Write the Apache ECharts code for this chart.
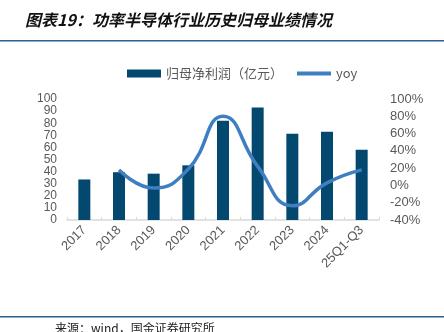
<!DOCTYPE html>
<html><head><meta charset="utf-8">
<script src="https://cdn.jsdelivr.net/npm/echarts@6/dist/echarts.min.js"></script>
<style>html,body{margin:0;padding:0;background:#fff}#c{width:444px;height:332px}</style>
</head><body><div id="c"></div>
<script>
const categories = ['2017','2018','2019','2020','2021','2022','2023','2024','25Q1-Q3'];
const profit = [33.5, 39.5, 38.3, 45.2, 82, 93, 71.3, 73, 58];
const yoy = [null, 18, -3, 19, 80, 22, -23.5, 3, 18];
const leftTicks = [0, 100, 10];
const rightTicks = [-40, 100, 20];

const chart = echarts.init(document.getElementById('c'), null, {renderer:'canvas'});
const gray = '#595959';
const font = 'Liberation Sans, Arial, sans-serif';
chart.setOption({
  animation: false,
  textStyle: {fontFamily: font},
  title: {
    text: '图表19：功率半导体行业历史归母业绩情况',
    left: 20, top: 7,
    textStyle: {fontFamily: 'Noto Sans CJK SC', fontSize: 16, fontStyle: 'italic', fontWeight: 'bold', color: '#111'}
  },
  graphic: [
    {type:'rect', shape:{x:0,y:40,width:444,height:1.5}, style:{fill:'#2b5f8c'}},
    {type:'rect', shape:{x:0,y:316,width:444,height:1.5}, style:{fill:'#2b5f8c'}},
    {type:'text', left: 55, top: 322, style:{text:'来源：wind，国金证券研究所', fontFamily:'Noto Sans CJK SC', fontSize:12, fill:'#222'}}
  ],
  legend: {
    top: 62, left: 122,
    itemGap: 14,
    itemWidth: 34, itemHeight: 8,
    textStyle: {fontFamily: 'Noto Sans CJK SC, Liberation Sans', fontSize: 13, color: gray},
    data: [
      {name:'归母净利润（亿元）', icon:'rect'},
      {name:'yoy', icon:'path://M0,0 L34,0 L34,4 L0,4 Z'}
    ]
  },
  grid: {left: 67, right: 65, top: 99, bottom: 112, containLabel: false},
  xAxis: {
    type: 'category', data: categories, boundaryGap: true,
    axisLine: {lineStyle: {color: '#d9d9d9', width: 1.5}},
    axisTick: {show: true, inside: true, length: 3, lineStyle:{color:'#d9d9d9'}},
    axisLabel: {rotate: 45, color: gray, fontSize: 13, margin: 8, fontFamily: font}
  },
  yAxis: [
    {type:'value', min: leftTicks[0], max: leftTicks[1], interval: leftTicks[2],
     splitLine:{show:false}, axisLine:{show:false}, axisTick:{show:false},
     axisLabel:{color: gray, fontSize: 12, margin: 10, fontFamily: font, showMinLabel: true, showMaxLabel: true, hideOverlap: false}},
    {type:'value', min: rightTicks[0], max: rightTicks[1], interval: rightTicks[2],
     splitLine:{show:false}, axisLine:{show:false}, axisTick:{show:false},
     axisLabel:{color: gray, fontSize: 13, margin: 11, formatter: '{value}%', fontFamily: font, showMinLabel: true, showMaxLabel: true, hideOverlap: false}}
  ],
  series: [
    {name:'归母净利润（亿元）', type:'bar', data: profit, barWidth: 12, itemStyle:{color:'#03486f'}},
    {name:'yoy', type:'line', yAxisIndex: 1, data: yoy, smooth: 0.5, showSymbol: false, symbol:'none',
     lineStyle:{color:'#3f7fc1', width: 3.5}, itemStyle:{color:'#3f7fc1'}}
  ]
});
</script></body></html>
